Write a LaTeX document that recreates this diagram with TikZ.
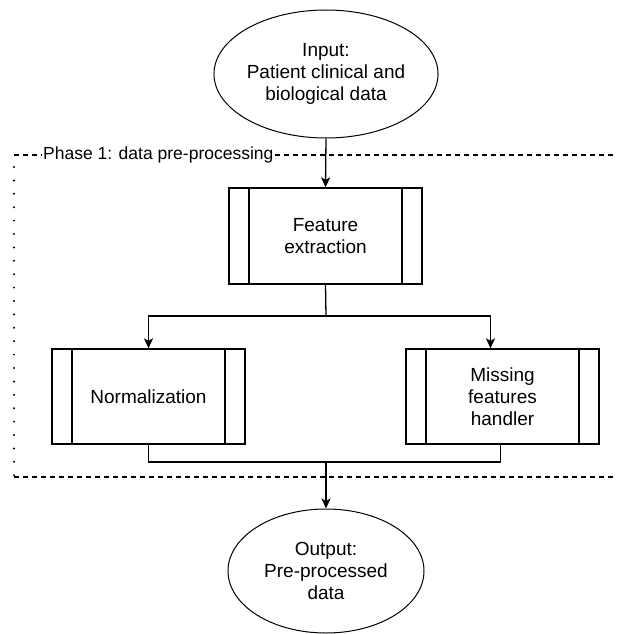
\documentclass[tikz,border=0pt]{standalone}
\usepackage{fontspec}
\setmainfont{Liberation Sans}
\usetikzlibrary{shapes.geometric,arrows.meta}

\tikzset{
  proc/.style={draw, line width=1.3pt, minimum width=193pt, minimum height=96pt,
    align=center, inner sep=0pt, font=\fontsize{19}{22}\selectfont,
    path picture={
      \draw[line width=1.3pt] ([xshift=20pt]path picture bounding box.north west) -- ([xshift=20pt]path picture bounding box.south west);
      \draw[line width=1.3pt] ([xshift=-20pt]path picture bounding box.north east) -- ([xshift=-20pt]path picture bounding box.south east);
    }},
  term/.style={draw, ellipse, line width=1pt, minimum width=196pt, minimum height=128pt,
    align=center, inner sep=0pt, font=\fontsize{19}{22}\selectfont},
  line/.style={line width=1.3pt},
  arrow/.style={line, -{Stealth[length=10pt,width=9pt,inset=2.5pt]}},
}

\begin{document}
\begin{tikzpicture}[x=1pt, y=-1pt]

\useasboundingbox (0,0) rectangle (617,634);

% Phase frame (open on the right)
\draw [line width=1.1pt, dash pattern=on 5pt off 4pt] (14,155) -- (620,155);
\draw [line width=1.1pt, dash pattern=on 5pt off 4pt] (14,477) -- (620,477);
\draw [line width=2.2pt, line cap=round, dash pattern=on 0pt off 13.4pt] (14,167) -- (14,477);
\node [fill=white, inner sep=1pt, anchor=west, font=\fontsize{17.5}{20}\selectfont] (phase) at (42,155) {Phase 1: data pre-processing};

\node [term] (inp) at (326,74) {Input:\\Patient clinical and\\biological data};
\node [proc] (fe) at (325.5,236) {Feature\\extraction};
\node [proc, minimum height=95pt] (norm) at (148.5,396.5) {Normalization};
\node [proc, minimum height=95pt] (miss) at (502.5,396.5) {Missing\\features\\handler};
\node [term, minimum height=124pt] (outp) at (326,571) {Output:\\Pre-processed\\data};

\coordinate (split) at (326,316);
\coordinate (join) at (326,462);

\draw [arrow] (inp.south) -- (fe.north);

% split into the two branches
\draw [line]  (fe.south) -- (split);
\draw [arrow] (split) -| (norm.north);
\draw [arrow] (split) -| ([xshift=-12pt]miss.north);

% merge back
\draw [line]  (norm.south) |- (join);
\draw [line]  ([xshift=-2pt]miss.south) |- (join);
\draw [arrow] (join) -- (outp.north);

\end{tikzpicture}
\end{document}
